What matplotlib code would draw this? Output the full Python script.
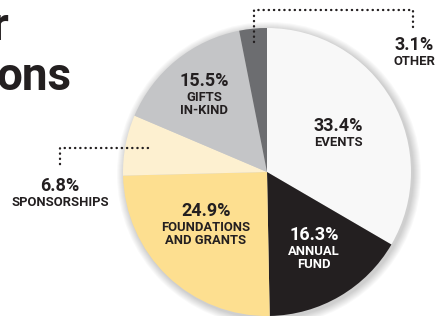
import numpy as np
import matplotlib.pyplot as plt
from matplotlib.patches import Circle

# andele af indtægter i procent, med uret fra toppen
kategorier = ["EVENTS", "ANNUAL\nFUND", "FOUNDATIONS\nAND GRANTS", "SPONSORSHIPS", "GIFTS\nIN-KIND", "OTHER"]
andele = [33.4, 16.3, 24.9, 6.8, 15.5, 3.1]
farver = ["#f8f8f8", "#231f20", "#fddf90", "#fdf0d0", "#c4c5c7", "#6c6d70"]
tekstfarver = ["#231f20", "#ffffff", "#231f20", "#231f20", "#231f20", "#231f20"]

W, H = 437, 316
MØRK = "#231f20"

fig = plt.figure(figsize=(W / 100, H / 100), dpi=100)
ax = fig.add_axes([0, 0, 1, 1])
ax.set_xlim(0, W)
ax.set_ylim(0, H)
ax.set_aspect("equal")
ax.axis("off")

cx, cy, r = 267, H - 172, 144

# blød skygge rundt om lagkagen
for k in range(1, 9):
    ax.add_patch(Circle((cx + 2, cy - 2), r + k, color="#000000", alpha=0.025, lw=0, zorder=0))

ax.pie(andele, colors=farver, startangle=90, counterclock=False,
       center=(cx, cy), radius=r, frame=True,
       wedgeprops=dict(linewidth=0, zorder=1))
ax.set_xlim(0, W)
ax.set_ylim(0, H)
ax.axis("off")

plt.rcParams["font.family"] = ["Roboto", "DejaVu Sans"]

# etiketter (pixel-positioner, y fra toppen)
pos = [(338, 126), (314, 235), (206, 211), (60, 186), (204, 81), (414, 45)]
for navn, v, (x, y), fc in zip(kategorier, andele, pos, tekstfarver):
    ax.text(x, H - y, f"{v}%", ha="center", va="center", fontsize=13,
            fontweight="bold", color=fc, zorder=5)
    ax.text(x, H - y - 10, navn, ha="center", va="top", fontsize=9.4,
            fontweight="bold", color=fc, linespacing=0.95, zorder=5)

# prikkede henvisningslinjer
prik = dict(color=MØRK, lw=1.7, linestyle=(0, (0.1, 2.1)), dash_capstyle="round", zorder=6)
ax.plot([254, 254, 413, 413], [H - 42, H - 10, H - 10, H - 27], **prik)
ax.plot([148, 60, 60], [H - 148, H - 148, H - 166], **prik)

# titel (beskåret i originalen)
ax.text(8, H - 40, "r", ha="right", va="baseline", fontsize=33, fontweight="bold", color=MØRK)
ax.text(72, H - 90, "ons", ha="right", va="baseline", fontsize=33, fontweight="bold", color=MØRK)

fig.savefig("out.png", dpi=100)
